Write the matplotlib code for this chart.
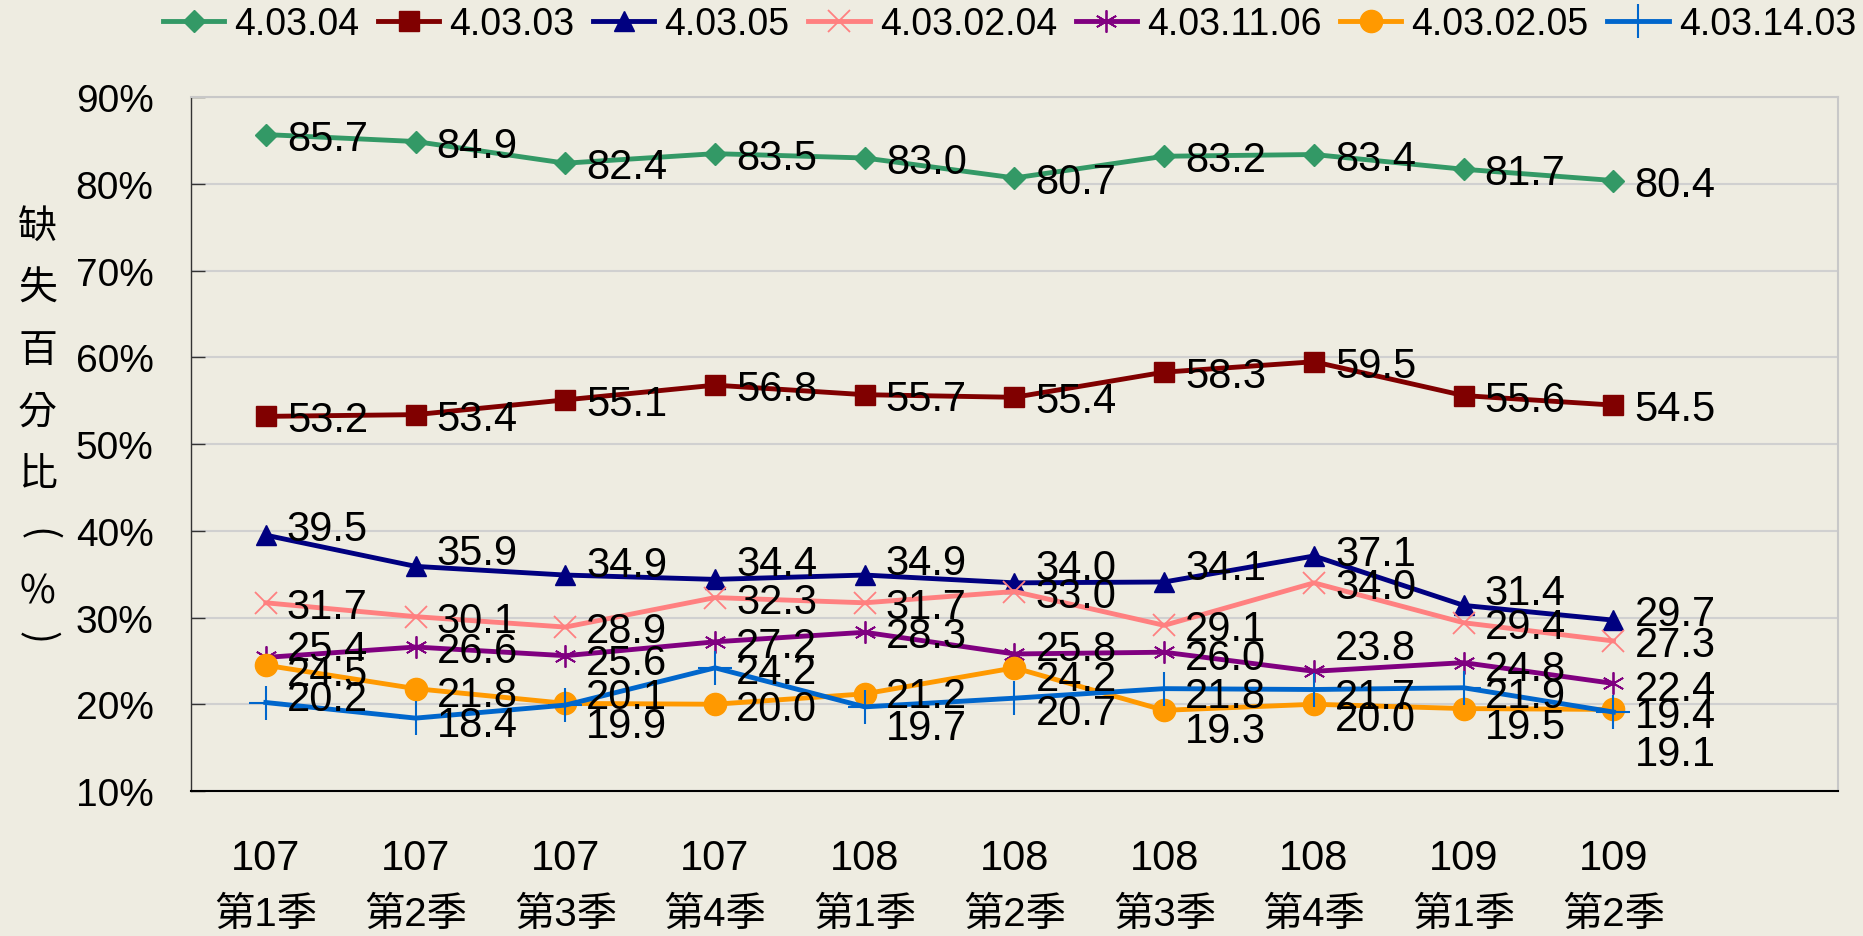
import matplotlib
matplotlib.use("Agg")
import matplotlib.pyplot as plt

# 季別 (x 軸兩行標籤)
years = ["107", "107", "107", "107", "108", "108", "108", "108", "109", "109"]
seasons = ["第1季", "第2季", "第3季", "第4季", "第1季", "第2季", "第3季", "第4季", "第1季", "第2季"]

# 各項目缺失百分比 (%)
s_4_03_04 = [85.7, 84.9, 82.4, 83.5, 83.0, 80.7, 83.2, 83.4, 81.7, 80.4]
s_4_03_03 = [53.2, 53.4, 55.1, 56.8, 55.7, 55.4, 58.3, 59.5, 55.6, 54.5]
s_4_03_05 = [39.5, 35.9, 34.9, 34.4, 34.9, 34.0, 34.1, 37.1, 31.4, 29.7]
s_4_03_02_04 = [31.7, 30.1, 28.9, 32.3, 31.7, 33.0, 29.1, 34.0, 29.4, 27.3]
s_4_03_11_06 = [25.4, 26.6, 25.6, 27.2, 28.3, 25.8, 26.0, 23.8, 24.8, 22.4]
s_4_03_02_05 = [24.5, 21.8, 20.1, 20.0, 21.2, 24.2, 19.3, 20.0, 19.5, 19.4]
s_4_03_14_03 = [20.2, 18.4, 19.9, 24.2, 19.7, 20.7, 21.8, 21.7, 21.9, 19.1]

names = ["4.03.04", "4.03.03", "4.03.05", "4.03.02.04", "4.03.11.06", "4.03.02.05", "4.03.14.03"]
series = [s_4_03_04, s_4_03_03, s_4_03_05, s_4_03_02_04, s_4_03_11_06, s_4_03_02_05, s_4_03_14_03]

# 樣式 (顏色, 標記, 標記大小, 標記線寬)
colors = ["#339966", "#800000", "#000080", "#FF8080", "#800080", "#FF9900", "#0066CC"]
markers = ["D", "s", "^", "x", (6, 2, 0), "o", "+"]
msizes = [11.5, 14.5, 15, 16, 16, 16, 24]
mews = [1, 1, 1, 1.3, 1.3, 1, 1.5]

# 數據標籤垂直位移 (像素, 向上為正)
label_dy = [
    [0] * 10,
    [0] * 10,
    [10, 17, 14, 19, 16, 19, 18, 6, 16, 10],
    [0] * 10,
    [12, 0, -3, 0, 0, 9, -2, 27, -2, -2],
    [-5, -2, 10, -1, 2, -7, -17, -11, -14, -3],
    [8, -3, -17, 0, -17, -11, -3, -3, -4, -38],
]

bg = "#EEECE1"
plt.rcParams['font.family'] = ['Liberation Sans', 'Noto Sans CJK TC']

fig = plt.figure(figsize=(18.63, 9.37), dpi=100, facecolor=bg)
ax = fig.add_axes([0.1025, 0.1548, 0.8841, 0.7403])
ax.set_facecolor(bg)

x = list(range(len(years)))
for vals, name, c, m, ms, mew, dys in zip(series, names, colors, markers, msizes, mews, label_dy):
    ax.plot(x, vals, color=c, lw=3.5, marker=m, markersize=ms, markeredgewidth=mew,
            markeredgecolor=c, markerfacecolor=c, label=name, clip_on=False)
    for i, v in enumerate(vals):
        ax.annotate(f"{v:.1f}", (i, v), xytext=(21, dys[i] - 15),
                    textcoords="offset pixels", ha="left", va="baseline",
                    fontsize=30, color="black", zorder=10)

ax.set_xlim(-0.5, 10.5)
ax.set_ylim(10, 90)
ax.set_yticks(range(10, 91, 10))
ax.set_yticklabels([f"{v}%" for v in range(10, 91, 10)], fontsize=28)
ax.tick_params(axis="y", direction="in", length=10, width=1, color="#333333", pad=27)
ax.set_xticks(x)
ax.set_xticklabels(years, fontsize=30)
ax.tick_params(axis="x", length=0, pad=34)
for i, s in enumerate(seasons):
    ax.text(i, -0.177, s, transform=ax.get_xaxis_transform(), ha="center", va="center", fontsize=29)

ax.grid(axis="y", color="#D0D0D0", lw=1.5)
ax.set_axisbelow(True)
ax.spines["left"].set_color("#333333")
ax.spines["left"].set_linewidth(1)
ax.spines["bottom"].set_color("black")
ax.spines["bottom"].set_linewidth(1.5)
for side in ["top", "right"]:
    ax.spines[side].set_color("#C8C8C8")
    ax.spines[side].set_linewidth(1.5)

# 直書 y 軸標題 (括號轉 90 度)
ylabel_chars = ["缺", "失", "百", "分", "比", "(", "%", ")"]
ylabel_rot = [0, 0, 0, 0, 0, -90, 0, -90]
ylabel_px = [227, 289, 351, 413, 475, 535, 592, 638]
for ch, rot, ypx in zip(ylabel_chars, ylabel_rot, ylabel_px):
    fig.text(0.0201, 1 - ypx / 937, ch, ha="center", va="center", fontsize=28,
             rotation=rot, rotation_mode="anchor",
             family=["Noto Sans CJK TC", "DejaVu Sans"])

fig.legend(loc="center left", bbox_to_anchor=(0.0875, 0.973), bbox_transform=fig.transFigure,
           ncol=7, frameon=False, fontsize=27, handlelength=1.63, handletextpad=0.27,
           columnspacing=0.5, borderpad=0, borderaxespad=0, numpoints=1)

fig.savefig("out.png", dpi=100, facecolor=bg)
